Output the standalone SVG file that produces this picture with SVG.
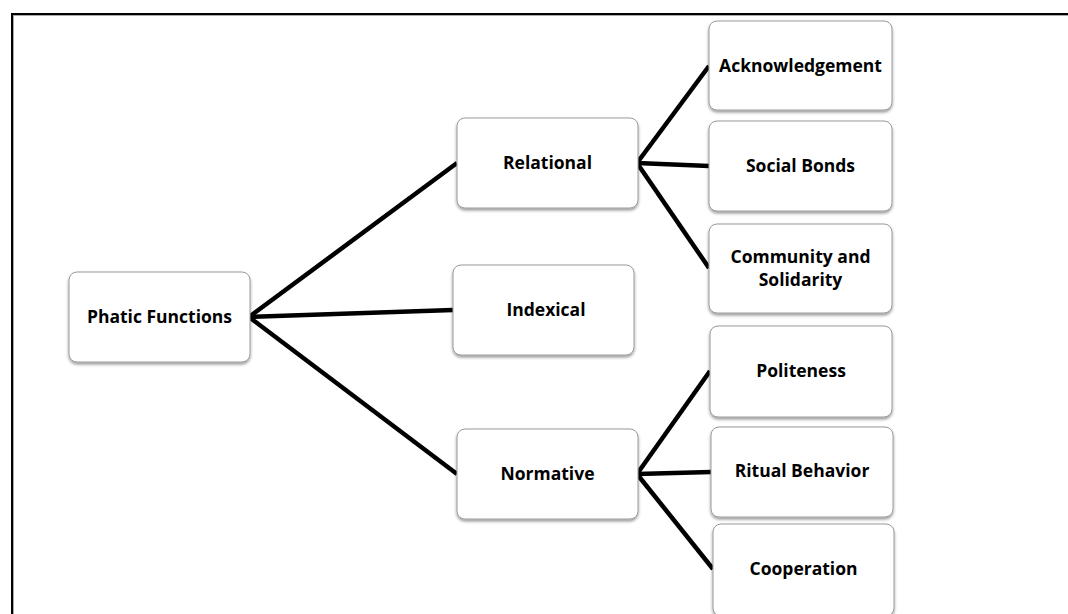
<svg xmlns="http://www.w3.org/2000/svg" width="1068" height="614" viewBox="0 0 1068 614">
<defs>
<filter id="sh" x="-10%" y="-10%" width="130%" height="140%">
<feDropShadow dx="0" dy="2" stdDeviation="1.5" flood-color="#000" flood-opacity="0.4"/>
</filter>
<style>
.box{fill:#fff;stroke:#9a9a9a;stroke-width:1;filter:url(#sh)}
.t{font-family:"Open Sans","Noto Sans",sans-serif;font-weight:700;font-size:17.5px;fill:#000;text-anchor:middle}
.c{stroke:#000;stroke-width:4.5;fill:none;stroke-linecap:butt}
</style>
</defs>
<rect x="0" y="0" width="1068" height="614" fill="#fff"/>
<path d="M12,620 V14 H1075" fill="none" stroke="#aaa" stroke-width="2" transform="translate(1,1)"/>
<path d="M12,620 V14 H1075" fill="none" stroke="#000" stroke-width="2"/>
<g id="connectors">
<line class="c" x1="249" y1="317" x2="457" y2="163"/>
<line class="c" x1="249" y1="317" x2="453" y2="310"/>
<line class="c" x1="249" y1="317" x2="457" y2="474"/>
<line class="c" x1="637" y1="163" x2="709" y2="66"/>
<line class="c" x1="637" y1="163" x2="709" y2="166"/>
<line class="c" x1="637" y1="163" x2="709" y2="268"/>
<line class="c" x1="637" y1="474" x2="710" y2="371"/>
<line class="c" x1="637" y1="474" x2="711" y2="472"/>
<line class="c" x1="637" y1="474" x2="713" y2="569"/>
</g>
<g id="phatic"><rect class="box" x="69" y="272" width="181" height="90" rx="8"/><text class="t" x="159.5" y="323">Phatic Functions</text></g>
<g id="relational"><rect class="box" x="457" y="118" width="181" height="90" rx="8"/><text class="t" x="547.5" y="169">Relational</text></g>
<g id="indexical"><rect class="box" x="453" y="265" width="181" height="90" rx="8"/><text class="t" x="546" y="316">Indexical</text></g>
<g id="normative"><rect class="box" x="457" y="429" width="181" height="90" rx="8"/><text class="t" x="547.5" y="480">Normative</text></g>
<g id="acknowledgement"><rect class="box" x="709" y="21" width="183" height="89" rx="8"/><text class="t" x="800.5" y="72">Acknowledgement</text></g>
<g id="socialbonds"><rect class="box" x="709" y="121" width="183" height="90" rx="8"/><text class="t" x="800.5" y="172">Social Bonds</text></g>
<g id="community"><rect class="box" x="709" y="224" width="183" height="89" rx="8"/><text class="t" x="800.5" y="263">Community and</text><text class="t" x="800.5" y="286">Solidarity</text></g>
<g id="politeness"><rect class="box" x="710" y="326" width="182" height="91" rx="8"/><text class="t" x="801" y="377">Politeness</text></g>
<g id="ritual"><rect class="box" x="711" y="427" width="182" height="90" rx="8"/><text class="t" x="802" y="477">Ritual Behavior</text></g>
<g id="cooperation"><rect class="box" x="713" y="524" width="181" height="92" rx="8"/><text class="t" x="803.5" y="575">Cooperation</text></g>
</svg>
